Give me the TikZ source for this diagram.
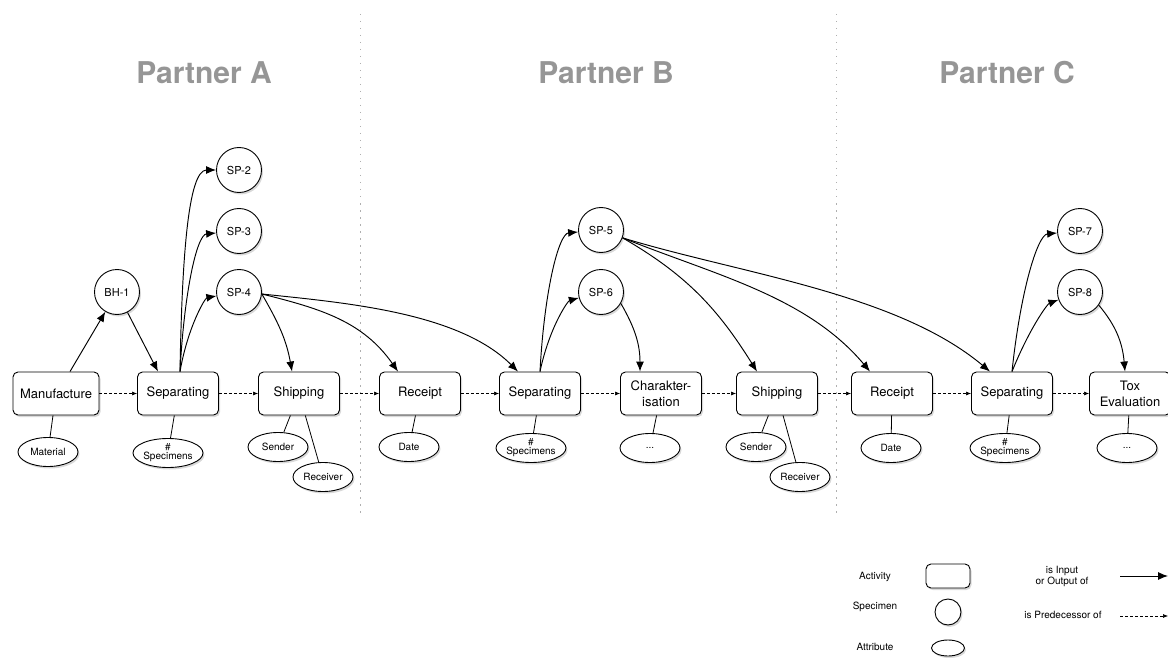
\documentclass[tikz,border=0pt]{standalone}
\usepackage{fontspec}
\setmainfont{TeX Gyre Heros}
\usetikzlibrary{arrows.meta,shapes.geometric,shadows}
\definecolor{titlegray}{RGB}{150,150,150}
\definecolor{divgray}{RGB}{175,175,175}

\begin{document}
\begin{tikzpicture}[x=1pt,y=1pt,
    softshadow/.style={drop shadow={shadow xshift=1.5pt,shadow yshift=-2pt,opacity=0.3}},
    activity/.style={draw,fill=white,rounded corners=5pt,line width=0.9pt,minimum width=81pt,minimum height=43pt,align=center,font=\fontsize{13}{16}\selectfont,softshadow},
    specimen/.style={draw,fill=white,circle,line width=0.9pt,minimum size=45pt,inner sep=0pt,font=\fontsize{11}{13}\selectfont,softshadow},
    attribute/.style={draw,fill=white,ellipse,line width=0.9pt,minimum width=60pt,minimum height=29pt,inner sep=0pt,align=center,font=\fontsize{10}{9}\selectfont,softshadow},
    partner/.style={font=\fontsize{30}{30}\selectfont\bfseries,text=titlegray},
    io/.style={line width=0.95pt,-{Latex[length=10pt,width=8pt]}},
    fan/.style={out looseness=1.4,in looseness=0.35},
    pred/.style={line width=0.6pt,dash pattern=on 3pt off 2pt,-{Latex[length=5pt,width=4pt]}},
    attr/.style={line width=0.8pt},
    legendtext/.style={font=\fontsize{10}{11}\selectfont,align=center}]
        \useasboundingbox (0,0) rectangle (1168,-658);
        % partner columns
        \draw[divgray,line width=1pt,dash pattern=on 1.5pt off 5.5pt] (360,-14) -- (360,-516);
        \draw[divgray,line width=1pt,dash pattern=on 1.5pt off 5.5pt] (836,-14) -- (836,-516);
        \node[partner] (ptA) at (204,-73) {Partner A};
        \node[partner] (ptB) at (606,-73) {Partner B};
        \node[partner] (ptC) at (1007,-73) {Partner C};
        % activities
        \node[activity,minimum width=86pt] (man) at (56,-393.5) {Manufacture};
        \node[activity] (sepA)  at (178,-393.5)  {Separating};
        \node[activity] (shipA) at (299,-393.5)  {Shipping};
        \node[activity] (recB)  at (420,-393.5)  {Receipt};
        \node[activity] (sepB)  at (540,-393.5)  {Separating};
        \node[activity] (charB) at (661,-393.5)  {Charakter-\\isation};
        \node[activity] (shipB) at (777,-393.5)  {Shipping};
        \node[activity] (recC)  at (892,-393.5)  {Receipt};
        \node[activity] (sepC)  at (1012,-393.5) {Separating};
        \node[activity] (tox)   at (1130,-393.5) {Tox\\Evaluation};
        % specimens
        \node[specimen] (bh1) at (117,-292)  {BH-1};
        \node[specimen] (sp2) at (239,-170)  {SP-2};
        \node[specimen] (sp3) at (239,-231)  {SP-3};
        \node[specimen] (sp4) at (239,-292)  {SP-4};
        \node[specimen] (sp5) at (601,-230)  {SP-5};
        \node[specimen] (sp6) at (601,-292)  {SP-6};
        \node[specimen] (sp7) at (1080,-231) {SP-7};
        \node[specimen] (sp8) at (1080,-292) {SP-8};
        % attributes
        \node[attribute] (matA)  at (48,-452)   {Material};
        \node[attribute] (numA)  at (168,-453)  {\#\\Specimens};
        \node[attribute] (sendA) at (278,-447)  {Sender};
        \node[attribute] (recvA) at (323,-477)  {Receiver};
        \node[attribute] (dateB) at (409,-447)  {Date};
        \node[attribute] (numB)  at (531,-448)  {\#\\Specimens};
        \node[attribute] (etcB)  at (650,-448)  {...};
        \node[attribute] (sendB) at (756,-447)  {Sender};
        \node[attribute] (recvB) at (800,-477)  {Receiver};
        \node[attribute] (dateC) at (891,-448)  {Date};
        \node[attribute] (numC)  at (1005,-448) {\#\\Specimens};
        \node[attribute] (etcC)  at (1127,-448) {...};
        % activity -- attribute
        \draw[attr] (man) -- (matA);
        \draw[attr] (sepA) -- (numA);
        \draw[attr] (shipA) -- (sendA);
        \draw[attr] (shipA) -- (recvA);
        \draw[attr] (recB) -- (dateB);
        \draw[attr] (sepB) -- (numB);
        \draw[attr] (charB) -- (etcB);
        \draw[attr] (shipB) -- (sendB);
        \draw[attr] (shipB) -- (recvB);
        \draw[attr] (recC) -- (dateC);
        \draw[attr] (sepC) -- (numC);
        \draw[attr] (tox) -- (etcC);
        % predecessor chain
        \draw[pred] (man) -- (sepA);
        \draw[pred] (sepA) -- (shipA);
        \draw[pred] (shipA) -- (recB);
        \draw[pred] (recB) -- (sepB);
        \draw[pred] (sepB) -- (charB);
        \draw[pred] (charB) -- (shipB);
        \draw[pred] (shipB) -- (recC);
        \draw[pred] (recC) -- (sepC);
        \draw[pred] (sepC) -- (tox);
        % partner A
        \draw[io] ([xshift=14pt]man.north) -- (bh1);
        \draw[io] (bh1) -- ([xshift=-20pt]sepA.north);
        \draw[io] ([xshift=2pt]sepA.north) to[out=89,in=180,fan] (sp2);
        \draw[io] ([xshift=2pt]sepA.north) to[out=87,in=185,fan] (sp3);
        \draw[io] ([xshift=2pt]sepA.north) to[out=80,in=190,fan] (sp4);
        \draw[io] (sp4.-5) to[out=-60,in=100] ([xshift=-7pt]shipA.north);
        \draw[io] (sp4.-5) to[out=-14,in=125] ([xshift=-22pt]recB.north);
        \draw[io] (sp4.-5) to[out=-6,in=135,looseness=0.8] ([xshift=-22pt]sepB.north);
        % partner B
        \draw[io] (sepB.north) to[out=87,in=185,fan] (sp5);
        \draw[io] (sepB.north) to[out=78,in=195,fan] (sp6);
        \draw[io] (sp6.-30) to[out=-60,in=90] ([xshift=-21pt]charB.north);
        \draw[io] (sp5.-20) to[out=-30,in=122] ([xshift=-20pt]shipB.north);
        \draw[io] (sp5.-20) to[out=-22,in=130,looseness=0.9] ([xshift=-22pt]recC.north);
        \draw[io] (sp5.-20) to[out=-17,in=140,looseness=0.8] ([xshift=-22pt]sepC.north);
        % partner C
        \draw[io] (sepC.north) to[out=84,in=185,fan] (sp7);
        \draw[io] (sepC.north) to[out=68,in=200,fan] (sp8);
        \draw[io] (sp8.-35) to[out=-50,in=95] ([xshift=-5pt]tox.north);
        % legend
        \node[legendtext] (lgAct)  at (875,-577) {Activity};
        \node[legendtext] (lgSpec) at (875,-607) {Specimen};
        \node[legendtext] (lgAttr) at (875,-647) {Attribute};
        \node[draw,fill=white,rounded corners=5pt,line width=0.9pt,minimum width=44pt,minimum height=24pt,softshadow] (lgBox) at (948,-576) {};
        \node[specimen,minimum size=26pt] (lgCirc) at (948,-612) {};
        \node[attribute,minimum width=33pt,minimum height=16pt] (lgEll) at (948,-648) {};
        \node[legendtext] (lgIO)   at (1062,-576) {is Input\\or Output of};
        \node[legendtext] (lgPred) at (1063,-615) {is Predecessor of};
        \coordinate (ioS) at (1120,-576);
        \coordinate (ioE) at (1168,-576);
        \coordinate (prS) at (1120,-616);
        \coordinate (prE) at (1168,-616);
        \draw[io] (ioS) -- (ioE);
        \draw[pred] (prS) -- (prE);
\end{tikzpicture}
\end{document}
